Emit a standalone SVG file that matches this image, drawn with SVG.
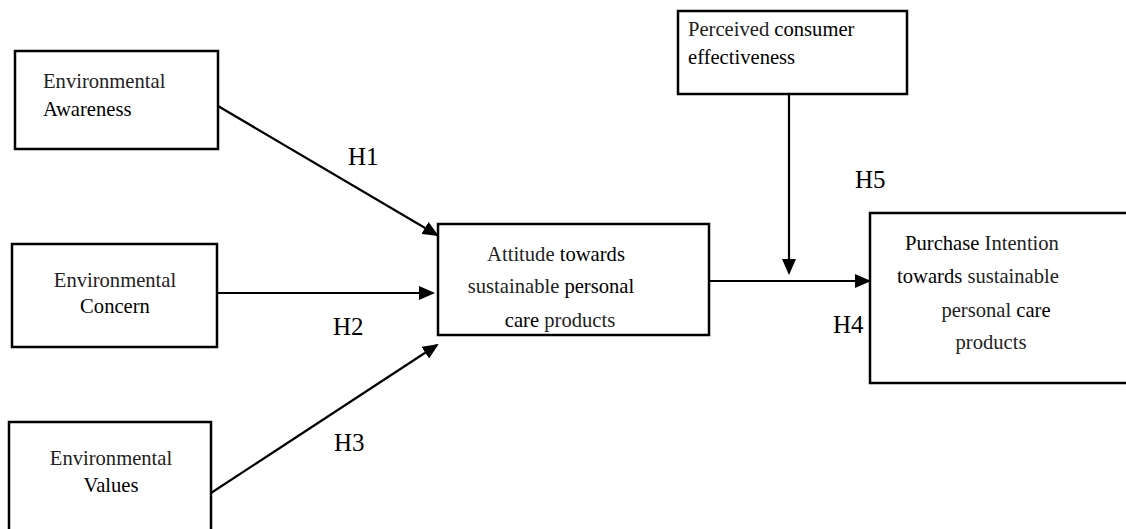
<svg xmlns="http://www.w3.org/2000/svg" width="1126" height="529" viewBox="0 0 1126 529">
<defs>
<style>
.box{fill:#fff;stroke:#000;stroke-width:2.5}
.t{font-family:"Liberation Serif","Times New Roman",serif;font-size:20.6px;fill:#222}
.d{fill:#000}
.c{text-anchor:middle}
.h{font-family:"Liberation Serif","Times New Roman",serif;font-size:25px;fill:#000}
.ln{stroke:#000;stroke-width:2.2;fill:none}
</style>
<marker id="ah" markerUnits="userSpaceOnUse" markerWidth="16" markerHeight="14" refX="14" refY="7" orient="auto">
<path d="M0,0 L16,7 L0,14 z" fill="#000"/>
</marker>
</defs>
<rect width="1126" height="529" fill="#fff"/>
<g id="connectors">
<line class="ln" x1="218" y1="106" x2="437" y2="235" marker-end="url(#ah)"/>
<line class="ln" x1="217" y1="293" x2="433" y2="293" marker-end="url(#ah)"/>
<line class="ln" x1="211" y1="493" x2="437" y2="345" marker-end="url(#ah)"/>
<line class="ln" x1="709" y1="281" x2="869" y2="281" marker-end="url(#ah)"/>
<line class="ln" x1="789" y1="94" x2="789" y2="273" marker-end="url(#ah)"/>
<text class="h" x="348" y="165">H1</text>
<text class="h" x="333" y="335">H2</text>
<text class="h" x="334" y="451">H3</text>
<text class="h" x="855" y="188">H5</text>
<text class="h" x="833" y="333">H4</text>
</g>
<g id="awareness">
<rect class="box" x="15" y="51" width="203" height="98"/>
<text class="t" x="43" y="88">Environmental</text>
<text class="t d" x="43" y="116">Awareness</text>
</g>
<g id="concern">
<rect class="box" x="12" y="244" width="205" height="103"/>
<text class="t c" x="115" y="287">Environmental</text>
<text class="t c d" x="115" y="313">Concern</text>
</g>
<g id="values">
<rect class="box" x="9" y="422" width="202" height="110"/>
<text class="t c" x="111" y="465">Environmental</text>
<text class="t c d" x="111" y="492">Values</text>
</g>
<g id="attitude">
<rect class="box" x="438" y="224" width="271" height="111"/>
<text class="t c" x="556" y="261">Attitude <tspan class="d">towards</tspan></text>
<text class="t c" x="551" y="293">sustainable <tspan class="d">personal</tspan></text>
<text class="t c" x="560" y="327"><tspan class="d">care</tspan> products</text>
</g>
<g id="perceived">
<rect class="box" x="678" y="11" width="229" height="83"/>
<text class="t" x="688" y="36">Perceived <tspan class="d">consumer</tspan></text>
<text class="t d" x="688" y="64">effectiveness</text>
</g>
<g id="purchase">
<rect class="box" x="870" y="213" width="262" height="170"/>
<text class="t c" x="982" y="250"><tspan class="d">Purchase</tspan> Intention</text>
<text class="t c" x="978" y="283"><tspan class="d">towards</tspan> sustainable</text>
<text class="t c" x="996" y="317">personal <tspan class="d">care</tspan></text>
<text class="t c" x="991" y="349">products</text>
</g>
</svg>
